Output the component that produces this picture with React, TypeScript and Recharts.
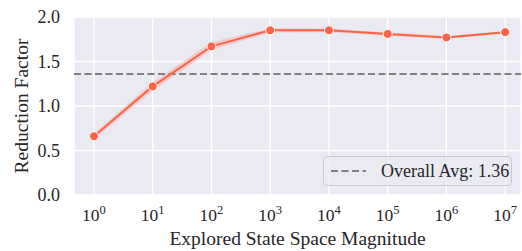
import { ComposedChart, Line, Area, XAxis, YAxis, CartesianGrid, ReferenceLine } from 'recharts';

const exponents = [0, 1, 2, 3, 4, 5, 6, 7];
const meanFactor = [0.66, 1.22, 1.67, 1.85, 1.85, 1.81, 1.77, 1.83];
const bandLow = [0.63, 1.17, 1.63, 1.825, 1.83, 1.79, 1.755, 1.815];
const bandHigh = [0.69, 1.27, 1.72, 1.875, 1.87, 1.83, 1.785, 1.845];
const yTicks = [0, 0.5, 1, 1.5, 2];
const overallAvg = 1.36;

const LINE = '#FF6347';
const FONT = '"Liberation Serif", "Times New Roman", serif';

const data = exponents.map((e, i) => ({
  e,
  mean: meanFactor[i],
  band: [bandLow[i], bandHigh[i]],
}));

const PowerTick = (props: any) => {
  const { x, y, payload } = props;
  return (
    <text x={x} y={y + 26} textAnchor="middle" fontFamily={FONT} fill="#262626">
      <tspan fontSize={17.5}>10</tspan>
      <tspan fontSize={12.5} dy={-7}>{payload.value}</tspan>
    </text>
  );
};

const App = () => {
  return (
    <div style={{ position: 'absolute', left: 0, top: 0, width: 522, height: 251, background: '#fff' }}>
      <ComposedChart width={522} height={251} data={data} margin={{ top: 17, right: 1, bottom: 0, left: 0 }}>
        <CartesianGrid fill="#EAEAF2" stroke="#ffffff" strokeWidth={1.3} />
        <XAxis
          dataKey="e"
          type="number"
          domain={[-0.34, 7.27]}
          ticks={exponents}
          height={56}
          axisLine={false}
          tickLine={false}
          tickSize={0}
          tickMargin={0}
          tick={<PowerTick />}
          allowDataOverflow
        />
        <YAxis
          type="number"
          domain={[0, 2]}
          ticks={yTicks}
          width={74}
          axisLine={false}
          tickLine={false}
          tickSize={0}
          tickMargin={14}
          tickFormatter={(v: number) => v.toFixed(1)}
          tick={{ fontSize: 18, fontFamily: FONT, fill: '#262626' }}
        />
        <ReferenceLine y={overallAvg} stroke="#808080" strokeWidth={2} strokeDasharray="7 3.5" />
        <Area
          type="linear"
          dataKey="band"
          stroke="none"
          fill={LINE}
          fillOpacity={0.22}
          isAnimationActive={false}
        />
        <Line
          type="linear"
          dataKey="mean"
          stroke={LINE}
          strokeWidth={2}
          dot={{ r: 4.5, fill: LINE, stroke: '#ffffff', strokeWidth: 1 }}
          activeDot={false}
          isAnimationActive={false}
        />
        <text x={28} y={106} transform="rotate(-90 28 106)" textAnchor="middle" fontFamily={FONT} fontSize={19.5} fill="#262626">
          Reduction Factor
        </text>
        <text x={297.5} y={245} textAnchor="middle" fontFamily={FONT} fontSize={19.5} fill="#262626">
          Explored State Space Magnitude
        </text>
      </ComposedChart>
      <div
        style={{
          position: 'absolute',
          left: 323,
          top: 156,
          width: 189,
          height: 30,
          boxSizing: 'border-box',
          border: '1px solid #cccccc',
          borderRadius: 4,
          background: 'rgba(234,234,242,0.8)',
          display: 'flex',
          alignItems: 'center',
          fontFamily: FONT,
          fontSize: 18,
          color: '#262626',
        }}
      >
        <svg width={57} height={30} style={{ flex: 'none' }}>
          <line x1={7} x2={42} y1={15} y2={15} stroke="#808080" strokeWidth={2} strokeDasharray="7 3.5" />
        </svg>
        <span>Overall Avg: 1.36</span>
      </div>
    </div>
  );
};

export default App;
